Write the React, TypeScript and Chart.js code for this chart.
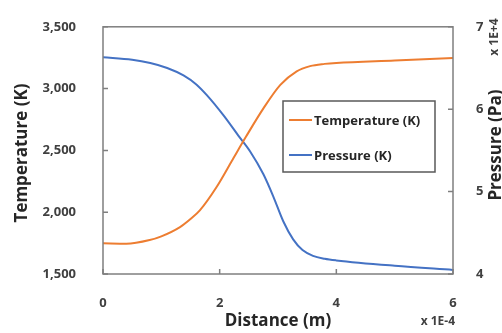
import React, { useEffect, useRef } from "react";
import { Chart, registerables } from "chart.js";

Chart.register(...registerables);

const tempDistance = [0, 0.4, 0.8, 1.0, 1.32, 1.5, 1.66, 1.95, 2.24, 2.45, 2.75, 3.04, 3.32, 3.55, 3.8, 4, 5, 6];
const temperature = [1748, 1745, 1775, 1805, 1880, 1945, 2015, 2206, 2441, 2610, 2840, 3030, 3140, 3182, 3200, 3208, 3228, 3248];

const presDistance = [0, 0.5, 0.81, 1.1, 1.38, 1.6, 1.78, 2.06, 2.32, 2.52, 2.75, 2.92, 3.09, 3.26, 3.42, 3.6, 3.8, 4, 5, 6];
const pressure = [6.63, 6.6, 6.56, 6.5, 6.41, 6.3, 6.17, 5.93, 5.68, 5.49, 5.21, 4.94, 4.64, 4.42, 4.29, 4.22, 4.185, 4.165, 4.1, 4.05];

const xTicks = [0, 2, 4, 6];
const tempTicks = [1500, 2000, 2500, 3000, 3500];
const presTicks = [4, 5, 6, 7];

const seriesLabels = ["Temperature (K)", "Pressure (K)"];
const seriesColors = ["#ED7D31", "#4472C4"];

const FONT = "'Open Sans', 'Noto Sans', sans-serif";
const TEXT = "#404040";
const TITLE = "#262626";
const BORDER = "#7f7f7f";

const decorPlugin = {
  id: "decor",
  afterDraw(chart: any) {
    const ctx = chart.ctx;
    const a = chart.chartArea;
    const sx = chart.scales.x;
    const sy = chart.scales.y;
    const sy1 = chart.scales.y1;
    ctx.save();
    ctx.strokeStyle = BORDER;
    ctx.lineWidth = 1.5;
    ctx.strokeRect(a.left, a.top, a.right - a.left, a.bottom - a.top);
    ctx.beginPath();
    xTicks.forEach((v) => {
      const px = sx.getPixelForValue(v);
      ctx.moveTo(px, a.bottom);
      ctx.lineTo(px, a.bottom - 5);
    });
    tempTicks.forEach((v) => {
      const py = sy.getPixelForValue(v);
      ctx.moveTo(a.left, py);
      ctx.lineTo(a.left + 5, py);
    });
    presTicks.forEach((v) => {
      const py = sy1.getPixelForValue(v);
      ctx.moveTo(a.right, py);
      ctx.lineTo(a.right - 5, py);
    });
    ctx.stroke();

    // legend
    const lx = 283, ly = 101, lw = 152, lh = 71;
    ctx.fillStyle = "#ffffff";
    ctx.fillRect(lx, ly, lw, lh);
    ctx.strokeStyle = "#595959";
    ctx.lineWidth = 1.5;
    ctx.strokeRect(lx, ly, lw, lh);
    ctx.font = `bold 13px ${FONT}`;
    ctx.textBaseline = "middle";
    ctx.textAlign = "left";
    const rows = [120, 155];
    seriesLabels.forEach((label, i) => {
      ctx.strokeStyle = seriesColors[i];
      ctx.lineWidth = 2;
      ctx.beginPath();
      ctx.moveTo(289, rows[i]);
      ctx.lineTo(312, rows[i]);
      ctx.stroke();
      ctx.fillStyle = TITLE;
      ctx.fillText(label, 314, rows[i] + 1);
    });

    // axis titles
    ctx.fillStyle = TITLE;
    ctx.font = `bold 17px ${FONT}`;
    ctx.textAlign = "center";
    ctx.textBaseline = "middle";
    ctx.fillText("Distance (m)", (a.left + a.right) / 2, 321);

    ctx.save();
    ctx.translate(22, 153);
    ctx.rotate(-Math.PI / 2);
    ctx.fillText("Temperature (K)", 0, 0);
    ctx.restore();

    ctx.save();
    ctx.translate(496, 145);
    ctx.rotate(-Math.PI / 2);
    ctx.fillText("Pressure (Pa)", 0, 0);
    ctx.restore();

    ctx.font = `bold 12px ${FONT}`;
    ctx.fillStyle = TEXT;
    ctx.textAlign = "right";
    ctx.fillText("x 1E-4", a.right + 2, 322);

    ctx.save();
    ctx.translate(495, 37);
    ctx.rotate(-Math.PI / 2);
    ctx.textAlign = "center";
    ctx.fillText("x 1E+4", 0, 0);
    ctx.restore();

    ctx.restore();
  },
};

export default function App() {
  const ref = useRef<HTMLCanvasElement | null>(null);

  useEffect(() => {
    if (!ref.current) return;
    const tickFont = { family: FONT, weight: "bold" as const, size: 13 };
    const chart = new Chart(ref.current, {
      type: "line",
      data: {
        datasets: [
          {
            label: seriesLabels[0],
            data: tempDistance.map((x, i) => ({ x, y: temperature[i] })),
            borderColor: seriesColors[0],
            borderWidth: 2,
            pointRadius: 0,
            cubicInterpolationMode: "monotone",
            yAxisID: "y",
          },
          {
            label: seriesLabels[1],
            data: presDistance.map((x, i) => ({ x, y: pressure[i] })),
            borderColor: seriesColors[1],
            borderWidth: 2,
            pointRadius: 0,
            cubicInterpolationMode: "monotone",
            yAxisID: "y1",
          },
        ],
      },
      options: {
        responsive: false,
        animation: false,
        layout: { padding: { top: 18, left: 0, right: 0, bottom: 0 } },
        plugins: { legend: { display: false }, tooltip: { enabled: false } },
        scales: {
          x: {
            type: "linear",
            min: 0,
            max: 6,
            afterBuildTicks: (s: any) => {
              s.ticks = xTicks.map((v) => ({ value: v }));
            },
            afterFit: (s: any) => {
              s.height = 59;
            },
            ticks: { font: tickFont, color: TEXT, padding: 13, maxRotation: 0 },
            grid: { display: false },
            border: { display: false },
          },
          y: {
            type: "linear",
            position: "left",
            min: 1500,
            max: 3500,
            afterBuildTicks: (s: any) => {
              s.ticks = tempTicks.map((v) => ({ value: v }));
            },
            afterFit: (s: any) => {
              s.width = 103;
            },
            ticks: {
              font: tickFont,
              color: TEXT,
              padding: 19,
              callback: (v: any) => Number(v).toLocaleString("en-US"),
            },
            grid: { display: false },
            border: { display: false },
          },
          y1: {
            type: "linear",
            position: "right",
            min: 4,
            max: 7,
            afterBuildTicks: (s: any) => {
              s.ticks = presTicks.map((v) => ({ value: v }));
            },
            afterFit: (s: any) => {
              s.width = 49;
            },
            ticks: { font: tickFont, color: TEXT, padding: 15 },
            grid: { display: false },
            border: { display: false },
          },
        },
      },
      plugins: [decorPlugin],
    });
    return () => chart.destroy();
  }, []);

  return (
    <div style={{ position: "fixed", left: 0, top: 0, width: 502, height: 333, background: "#fff" }}>
      <canvas ref={ref} width={502} height={333} />
    </div>
  );
}
